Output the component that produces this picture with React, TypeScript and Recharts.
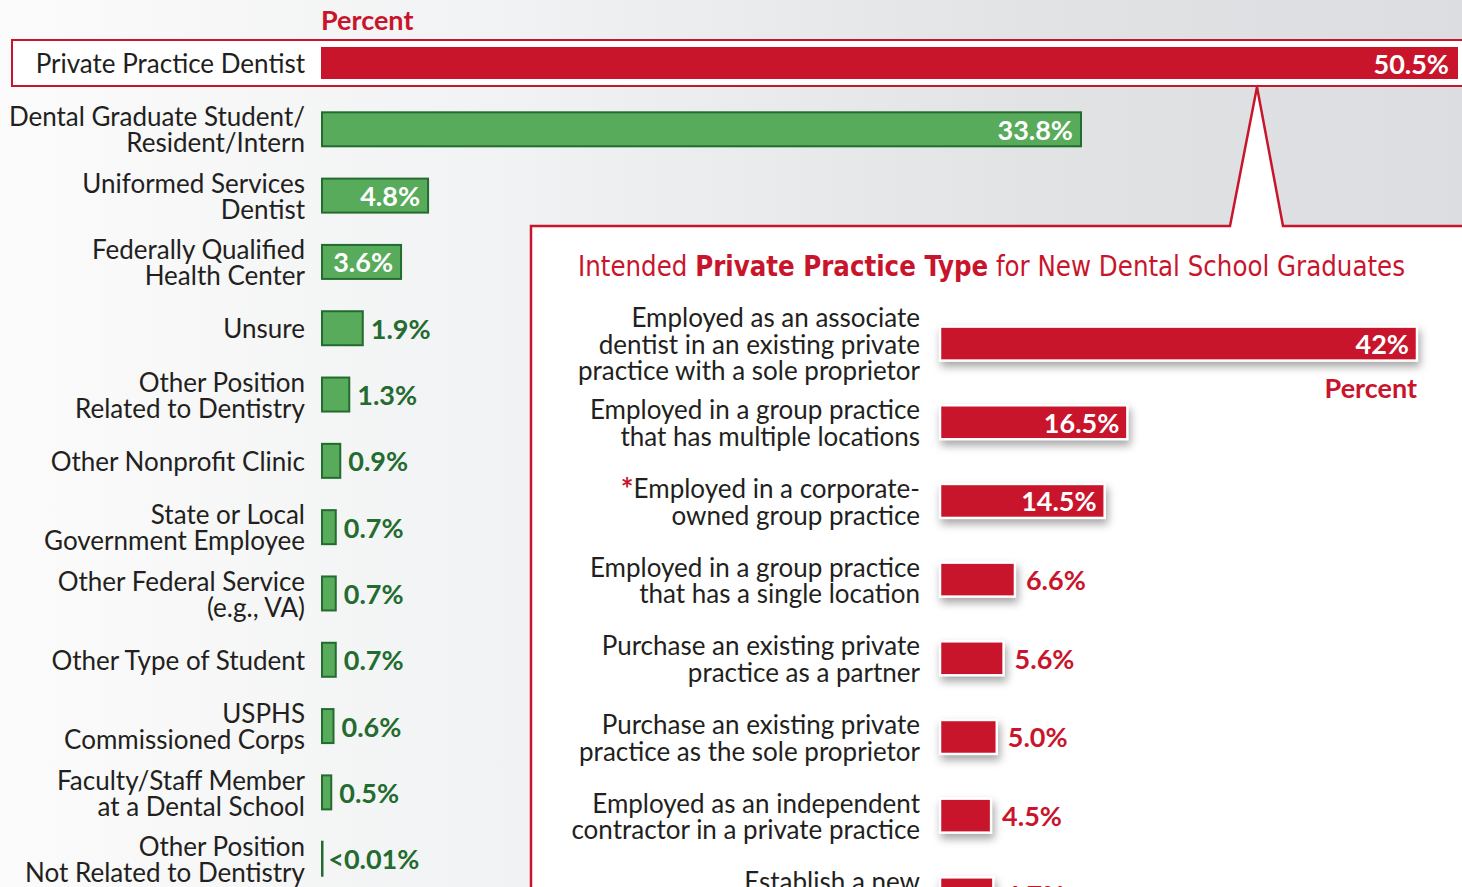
import React from 'react';
import { BarChart, Bar, XAxis, YAxis, LabelList } from 'recharts';

const leftCategories = [
  'Private Practice Dentist',
  'Dental Graduate Student/\nResident/Intern',
  'Uniformed Services\nDentist',
  'Federally Qualified\nHealth Center',
  'Unsure',
  'Other Position\nRelated to Dentistry',
  'Other Nonprofit Clinic',
  'State or Local\nGovernment Employee',
  'Other Federal Service\n(e.g., VA)',
  'Other Type of Student',
  'USPHS\nCommissioned Corps',
  'Faculty/Staff Member\nat a Dental School',
  'Other Position\nNot Related to Dentistry',
];
const leftValues = [50.5, 33.8, 4.8, 3.6, 1.9, 1.3, 0.9, 0.7, 0.7, 0.7, 0.6, 0.5, 0.01];
const leftValueLabels = ['50.5%', '33.8%', '4.8%', '3.6%', '1.9%', '1.3%', '0.9%', '0.7%', '0.7%', '0.7%', '0.6%', '0.5%', '<0.01%'];

const rightCategories = [
  'Employed as an associate\ndentist in an existing private\npractice with a sole proprietor',
  'Employed in a group practice\nthat has multiple locations',
  '*Employed in a corporate-\nowned group practice',
  'Employed in a group practice\nthat has a single location',
  'Purchase an existing private\npractice as a partner',
  'Purchase an existing private\npractice as the sole proprietor',
  'Employed as an independent\ncontractor in a private practice',
  'Establish a new\nprivate practice',
];
const rightValues = [42, 16.5, 14.5, 6.6, 5.6, 5.0, 4.5, 4.7];
const rightValueLabels = ['42%', '16.5%', '14.5%', '6.6%', '5.6%', '5.0%', '4.5%', '4.7%'];

const RED = '#c9152c';
const GREEN_FILL = '#58ab5a';
const GREEN_DARK = '#246b30';
const TEXT = '#231f20';
const FONT = 'Lato, "Open Sans", sans-serif';

const leftData = leftCategories.map((name, i) => ({ name, value: leftValues[i], label: leftValueLabels[i] }));
const rightData = rightCategories.map((name, i) => ({ name, value: rightValues[i], label: rightValueLabels[i] }));

const MultiTick = (props: any) => {
  const { x, y, payload, lineHeight } = props;
  const lines = String(payload.value).split('\n');
  const start = -((lines.length - 1) * lineHeight) / 2;
  return (
    <text x={x} y={y} textAnchor="end" fontFamily={FONT} fontSize={26} fill={TEXT} dominantBaseline="central">
      {lines.map((l: string, i: number) => (
        <tspan key={i} x={x} dy={i === 0 ? start : lineHeight}>
          {l.startsWith('*') ? (
            <>
              <tspan fill={RED} fontWeight={700} fontSize={30}>*</tspan>
              {l.slice(1)}
            </>
          ) : (
            l
          )}
        </tspan>
      ))}
    </text>
  );
};

const LeftShape = (props: any) => {
  const { x, y, width, height, payload } = props;
  if (payload && payload.name === leftCategories[0]) {
    return <rect x={x} y={y + 2} width={width} height={height - 4} fill={RED} />;
  }
  const w = Math.max(width, 2.5);
  if (width < 2) {
    return <rect x={x} y={y} width={w} height={height} fill={GREEN_DARK} />;
  }
  return <rect x={x + 1} y={y + 1} width={w - 2} height={height - 2} fill={GREEN_FILL} stroke={GREEN_DARK} strokeWidth={2} />;
};

const RightShape = (props: any) => {
  const { x, y, width, height } = props;
  return (
    <rect
      x={x}
      y={y}
      width={width}
      height={height}
      fill={RED}
      stroke="#ffffff"
      strokeWidth={2.5}
      style={{ filter: 'drop-shadow(2px 5px 4px rgba(0,0,0,0.35))' }}
    />
  );
};

const LeftLabel = (props: any) => {
  const { x, y, width, height, value } = props;
  const inside = width > 60;
  const cy = y + height / 2;
  return (
    <text
      x={inside ? x + width - 9 : x + width + 7}
      y={cy}
      textAnchor={inside ? 'end' : 'start'}
      dominantBaseline="central"
      fontFamily={FONT}
      fontWeight={700}
      fontSize={27}
      fill={inside ? '#ffffff' : GREEN_DARK}
    >
      {value}
    </text>
  );
};

const RightLabel = (props: any) => {
  const { x, y, width, height, value } = props;
  const inside = width > 100;
  const cy = y + height / 2;
  return (
    <text
      x={inside ? x + width - 8 : x + width + 11}
      y={cy}
      textAnchor={inside ? 'end' : 'start'}
      dominantBaseline="central"
      fontFamily={FONT}
      fontWeight={700}
      fontSize={27}
      fill={inside ? '#ffffff' : RED}
    >
      {value}
    </text>
  );
};

export default function App() {
  return (
    <div
      style={{
        position: 'absolute',
        left: 0,
        top: 0,
        width: 1462,
        height: 887,
        overflow: 'hidden',
        background: 'linear-gradient(to right, #fbfbfb 0%, #f1f2f3 35%, #e2e3e5 70%, #dcdde0 100%)',
      }}
    >
      <svg width={1462} height={887} style={{ position: 'absolute', left: 0, top: 0 }}>
        <rect x={12} y={40} width={1470} height={46} fill="#ffffff" stroke={RED} strokeWidth={2} />
        <path
          d="M531,900 L531,226 L1230,226 L1257,87 L1283,226 L1470,226 L1470,900 Z"
          fill="#ffffff"
          stroke={RED}
          strokeWidth={2.5}
        />
        <text x={321} y={19} dominantBaseline="central" fontFamily={FONT} fontWeight={700} fontSize={27} fill={RED}>
          Percent
        </text>
        <text
          x={578}
          y={266}
          dominantBaseline="central"
          fontFamily='"Liberation Sans Narrow", "DejaVu Sans Condensed", sans-serif'
          fontSize={29}
          fill={RED}
          textLength={827}
          lengthAdjust="spacingAndGlyphs"
        >
          Intended <tspan fontWeight={700}>Private Practice Type</tspan> for New Dental School Graduates
        </text>
        <text x={1417} y={387} textAnchor="end" dominantBaseline="central" fontFamily={FONT} fontWeight={700} fontSize={27} fill={RED}>
          Percent
        </text>
      </svg>

      <div style={{ position: 'absolute', left: 0, top: 0 }}>
        <BarChart
          width={1462}
          height={892}
          data={leftData}
          layout="vertical"
          margin={{ top: 30, right: 4, left: 0, bottom: 0 }}
          barSize={36}
        >
          <XAxis type="number" domain={[0, 50.5]} hide />
          <YAxis
            type="category"
            dataKey="name"
            width={321}
            tickLine={false}
            axisLine={false}
            interval={0}
            tickSize={0}
            tickMargin={16}
            tick={(p: any) => <MultiTick {...p} lineHeight={26} />}
          />
          <Bar dataKey="value" isAnimationActive={false} shape={(p: any) => <LeftShape {...p} />}>
            <LabelList dataKey="label" content={(p: any) => <LeftLabel {...p} />} />
          </Bar>
        </BarChart>
      </div>

      <div style={{ position: 'absolute', left: 540, top: 226 }}>
        <BarChart
          width={922}
          height={708}
          data={rightData}
          layout="vertical"
          margin={{ top: 78.6, right: 45, left: 0, bottom: 0 }}
          barSize={34}
        >
          <XAxis type="number" domain={[0, 42]} hide />
          <YAxis
            type="category"
            dataKey="name"
            width={400}
            tickLine={false}
            axisLine={false}
            interval={0}
            tickSize={0}
            tickMargin={20}
            tick={(p: any) => <MultiTick {...p} lineHeight={26.5} />}
          />
          <Bar dataKey="value" isAnimationActive={false} shape={(p: any) => <RightShape {...p} />}>
            <LabelList dataKey="label" content={(p: any) => <RightLabel {...p} />} />
          </Bar>
        </BarChart>
      </div>
    </div>
  );
}
